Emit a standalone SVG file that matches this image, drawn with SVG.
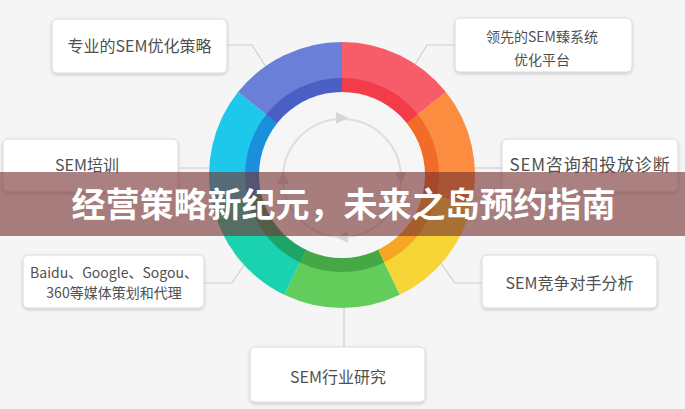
<svg xmlns="http://www.w3.org/2000/svg" width="685" height="409" viewBox="0 0 685 409">
<defs>
<style>
.box{fill:#ffffff;stroke:#dadada;stroke-width:1;filter:url(#sh)}
.t{font-family:"Noto Sans CJK SC","Noto Sans",sans-serif;fill:#505050;text-anchor:middle}
.conn{fill:none;stroke:#cfcfcf;stroke-width:1.2}
.arr{fill:#d6d6d6}
</style>
<filter id="sh" x="-10%" y="-20%" width="120%" height="150%">
<feDropShadow dx="0" dy="1.5" stdDeviation="1.5" flood-color="#000" flood-opacity="0.18"/>
</filter>
</defs>
<rect x="0" y="0" width="685" height="409" fill="#f5f5f5"/>
<g id="connectors">
<polyline class="conn" points="227,45 252,45 268,70"/>
<polyline class="conn" points="455,45 427,45 413,68"/>
<polyline class="conn" points="178,168 214,168"/>
<polyline class="conn" points="502,168 470,168"/>
<polyline class="conn" points="204,283 232,283 246,262"/>
<polyline class="conn" points="482,283 455,283 440,262"/>
<polyline class="conn" points="344,300 344,347"/>
</g>
<g id="ring">
<path d="M342,175 L342,42 A133,133 0 0 1 445.98,92.08 Z" fill="#f75d68"/>
<path d="M342,175 L445.98,92.08 A133,133 0 0 1 471.67,204.6 Z" fill="#fb8c40"/>
<path d="M342,175 L471.67,204.6 A133,133 0 0 1 399.71,294.83 Z" fill="#f8d536"/>
<path d="M342,175 L399.71,294.83 A133,133 0 0 1 284.29,294.83 Z" fill="#62cd5a"/>
<path d="M342,175 L284.29,294.83 A133,133 0 0 1 212.33,204.6 Z" fill="#1bd2b0"/>
<path d="M342,175 L212.33,204.6 A133,133 0 0 1 238.02,92.08 Z" fill="#1ec8ea"/>
<path d="M342,175 L238.02,92.08 A133,133 0 0 1 342,42 Z" fill="#6a7fd8"/>
<path d="M342,175 L342,78 A97,97 0 0 1 417.84,114.52 Z" fill="#f23c49"/>
<path d="M342,175 L417.84,114.52 A97,97 0 0 1 436.57,196.58 Z" fill="#f06c28"/>
<path d="M342,175 L436.57,196.58 A97,97 0 0 1 384.09,262.39 Z" fill="#f6a623"/>
<path d="M342,175 L384.09,262.39 A97,97 0 0 1 299.91,262.39 Z" fill="#46a845"/>
<path d="M342,175 L299.91,262.39 A97,97 0 0 1 247.43,196.58 Z" fill="#1fa468"/>
<path d="M342,175 L247.43,196.58 A97,97 0 0 1 266.16,114.52 Z" fill="#1a8fdc"/>
<path d="M342,175 L266.16,114.52 A97,97 0 0 1 342,78 Z" fill="#4a5fc4"/>
<circle cx="342" cy="175" r="83" fill="#f6f6f6"/>
<circle cx="342" cy="178" r="59" fill="none" stroke="#dedede" stroke-width="2"/>
<polygon class="arr" points="336,112 348,118 336,124"/>
<polygon class="arr" points="395,172 407,172 401,184"/>
<polygon class="arr" points="348,231 336,237 348,243"/>
<polygon class="arr" points="277,184 289,184 283,172"/>
</g>
<g id="n1">
<rect class="box" x="52" y="19" width="175" height="54" rx="5"/>
<text class="t" x="139.5" y="52" font-size="16">专业的SEM优化策略</text>
</g>
<g id="n2">
<rect class="box" x="455" y="18" width="177" height="54" rx="5"/>
<text class="t" x="542" y="42" font-size="14">领先的SEM臻系统</text>
<text class="t" x="542" y="65" font-size="14">优化平台</text>
</g>
<g id="n3">
<rect class="box" x="3" y="139" width="175" height="53" rx="5"/>
<text class="t" x="87" y="171" font-size="16">SEM培训</text>
</g>
<g id="n4">
<rect class="box" x="502" y="139" width="176" height="53" rx="5"/>
<text class="t" x="590" y="171" font-size="17" letter-spacing="0.8">SEM咨询和投放诊断</text>
</g>
<g id="n5">
<rect class="box" x="23" y="255" width="181" height="53" rx="5"/>
<text class="t" x="114" y="278" font-size="14">Baidu、Google、Sogou、</text>
<text class="t" x="114" y="298" font-size="14">360等媒体策划和代理</text>
</g>
<g id="n6">
<rect class="box" x="482" y="255" width="175" height="53" rx="5"/>
<text class="t" x="569.5" y="289" font-size="16">SEM竞争对手分析</text>
</g>
<g id="n7">
<rect class="box" x="250" y="347" width="175" height="55" rx="5"/>
<text class="t" x="338" y="383" font-size="16">SEM行业研究</text>
</g>
<g id="banner">
<rect x="0" y="172" width="685" height="64" fill="rgb(120,50,50)" fill-opacity="0.62"/>
<text x="343.5" y="217" font-family="'Noto Sans CJK SC','Noto Sans',sans-serif" font-size="34" font-weight="bold" fill="#ffffff" text-anchor="middle">经营策略新纪元，未来之岛预约指南</text>
</g>
</svg>
